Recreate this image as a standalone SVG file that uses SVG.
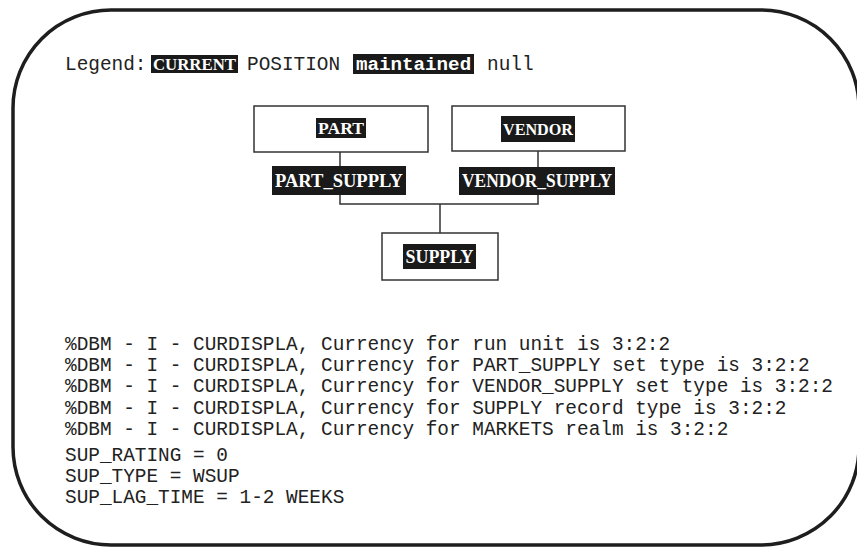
<svg xmlns="http://www.w3.org/2000/svg" width="857" height="549" viewBox="0 0 857 549">
<style>
.mono{font-family:"Liberation Mono","Courier New",monospace;font-size:19.4px;fill:#222}
.monob{font-family:"Liberation Mono","Courier New",monospace;font-size:19.2px;font-weight:bold;fill:#fff}
.lab{font-family:"Liberation Serif","Times New Roman",serif;font-weight:bold;fill:#fff;text-anchor:middle}
.node{fill:#fff;stroke:#333;stroke-width:1.5}
.tag{fill:#1a1a1a}
.conn{fill:none;stroke:#333;stroke-width:1.5}
</style>
<rect x="13" y="10" width="846" height="535" rx="98" ry="98" fill="#fff" stroke="#1e1e1e" stroke-width="3.5"/>
<g id="legend">
<text class="mono" x="65" y="70">Legend:</text>
<rect class="tag" x="151" y="55" width="87" height="18"/>
<text class="lab" x="194.5" y="70" font-size="17" textLength="83" lengthAdjust="spacingAndGlyphs">CURRENT</text>
<text class="mono" x="247" y="70">POSITION</text>
<rect class="tag" x="353" y="54" width="121" height="20"/>
<text class="monob" x="356" y="70">maintained</text>
<text class="mono" x="487" y="70">null</text>
</g>
<g id="connectors">
<path class="conn" d="M340 152V166M538 151V167M340 195V204H538V194M440 204V233"/>
</g>
<g id="part">
<rect class="node" x="254" y="106" width="174" height="46"/>
<rect class="tag" x="316" y="118" width="50" height="20"/>
<text class="lab" x="341" y="134" font-size="17" textLength="46" lengthAdjust="spacingAndGlyphs">PART</text>
</g>
<g id="vendor">
<rect class="node" x="452" y="106" width="173" height="45"/>
<rect class="tag" x="501" y="116" width="74" height="26"/>
<text class="lab" x="538" y="135" font-size="17" textLength="70" lengthAdjust="spacingAndGlyphs">VENDOR</text>
</g>
<g id="part_supply">
<rect class="tag" x="272" y="166" width="134" height="29"/>
<text class="lab" x="339" y="187" font-size="18" textLength="128" lengthAdjust="spacingAndGlyphs">PART_SUPPLY</text>
</g>
<g id="vendor_supply">
<rect class="tag" x="459" y="167" width="156" height="28"/>
<text class="lab" x="537" y="187" font-size="18" textLength="150" lengthAdjust="spacingAndGlyphs">VENDOR_SUPPLY</text>
</g>
<g id="supply">
<rect class="node" x="382" y="233" width="116" height="47"/>
<rect class="tag" x="403" y="244" width="73" height="25"/>
<text class="lab" x="439.5" y="263" font-size="18" textLength="68" lengthAdjust="spacingAndGlyphs">SUPPLY</text>
</g>
<g id="messages">
<text class="mono" x="65" y="350">%DBM - I - CURDISPLA, Currency for run unit is 3:2:2</text>
<text class="mono" x="65" y="371">%DBM - I - CURDISPLA, Currency for PART_SUPPLY set type is 3:2:2</text>
<text class="mono" x="65" y="392">%DBM - I - CURDISPLA, Currency for VENDOR_SUPPLY set type is 3:2:2</text>
<text class="mono" x="65" y="414">%DBM - I - CURDISPLA, Currency for SUPPLY record type is 3:2:2</text>
<text class="mono" x="65" y="435">%DBM - I - CURDISPLA, Currency for MARKETS realm is 3:2:2</text>
<text class="mono" x="65" y="461">SUP_RATING = 0</text>
<text class="mono" x="65" y="482">SUP_TYPE = WSUP</text>
<text class="mono" x="65" y="503">SUP_LAG_TIME = 1-2 WEEKS</text>
</g>
</svg>
